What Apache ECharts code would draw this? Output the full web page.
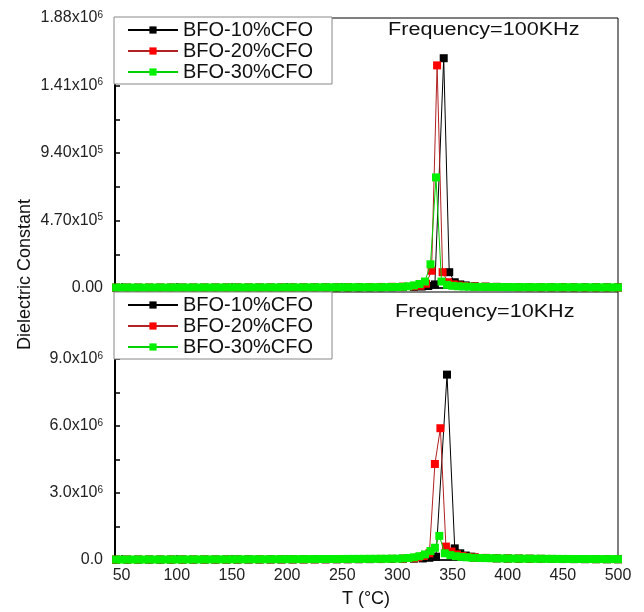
<!DOCTYPE html>
<html>
<head>
<meta charset="utf-8">
<script src="https://cdn.jsdelivr.net/npm/echarts@6/dist/echarts.min.js"></script>
<style>
html,body{margin:0;padding:0;background:#fff;}
#chart{width:644px;height:612px;}
</style>
</head>
<body>
<div id="chart"></div>
<script>
// ---------- data ----------
const seriesNames = ['BFO-10%CFO', 'BFO-20%CFO', 'BFO-30%CFO'];
const xTicks = [50, 100, 150, 200, 250, 300, 350, 400, 450, 500];

const topTickValues = [0, 235000, 470000, 705000, 940000, 1175000, 1410000, 1645000];
const topLabelValues = [0, 470000, 940000, 1410000, 1880000];
const topLabelMain = ['0.00', '4.70x10', '9.40x10', '1.41x10', '1.88x10'];
const topLabelExp = ['', '5', '5', '6', '6'];

const botTickValues = [0, 1500000, 3000000, 4500000, 6000000, 7500000, 9000000, 10500000];
const botLabelValues = [0, 3000000, 6000000, 9000000];
const botLabelMain = ['0.0', '3.0x10', '6.0x10', '9.0x10'];
const botLabelExp = ['', '6', '6', '6'];

// Frequency = 100 KHz
const top10T = [45,55,65,75,85,95,105,115,125,135,145,155,165,175,185,195,205,215,225,235,245,255,265,275,285,295,305,315,
  322,328,334,342,347,352,357,362,
  370,380,390,400,410,420,430,440,450,460,470,480,490,500];
const top10V = [2000,2000,2000,2000,2100,2100,2200,2200,2300,2300,2400,2500,2500,2600,2700,2800,2900,3000,3200,3400,3600,3900,4200,4600,5000,5600,6500,8000,
  10000,14000,25000,1600000,110000,40000,25000,18000,
  12000,9000,7500,6500,6000,5500,5000,4800,4500,4300,4100,4000,3900,3800];

const top20T = [45,55,65,75,85,95,105,115,125,135,145,155,165,175,185,195,205,215,225,235,245,255,265,275,285,295,305,315,
  321,326,331,336,341,346,351,356,361,
  370,380,390,400,410,420,430,440,450,460,470,480,490,500];
const top20V = [2500,2500,2500,2600,2600,2700,2700,2800,2900,3000,3100,3200,3300,3400,3600,3800,4000,4200,4500,4800,5200,5600,6100,6700,7400,8200,9500,12000,
  16000,30000,120000,1550000,110000,40000,25000,18000,14000,
  11000,9000,7800,7000,6400,6000,5600,5300,5000,4800,4600,4400,4200,4100];

const top30T = [45,50,55,60,65,70,75,80,85,90,95,100,105,110,115,120,125,130,135,140,145,150,155,160,165,170,175,180,185,190,195,200,
  205,210,215,220,225,230,235,240,245,250,255,260,265,270,275,280,285,290,295,300,
  305,310,315,320,325,330,335,340,345,350,355,360,365,370,
  375,380,385,390,395,400,405,410,415,420,425,430,435,440,445,450,455,460,465,470,475,480,485,490,495,500];
const top30V = [3000,3000,3000,3000,3000,3000,3100,3100,3100,3100,3200,3200,3200,3300,3300,3300,3400,3400,3400,3500,3500,3600,3600,3700,3700,3800,3800,3900,3900,4000,4000,4100,
  4200,4300,4400,4500,4600,4700,4800,4900,5000,5100,5200,5300,5400,5500,5600,5700,5800,6000,6500,7000,
  8000,12000,18000,28000,45000,165000,770000,45000,22000,15000,12000,10000,9000,8000,
  7500,7300,7100,6900,6700,6500,6300,6200,6100,6000,5900,5800,5700,5600,5500,5400,5300,5200,5100,5000,4900,4800,4700,4600,4500,4500];

// Frequency = 10 KHz
const bot10T = [45,55,65,75,85,95,105,115,125,135,145,155,165,175,185,195,205,215,225,235,245,255,265,275,285,295,305,315,
  323,329,335,345,352,357,362,367,
  370,380,390,400,410,420,430,440,450,460,470,480,490,500];
const bot10V = [15000,15000,16000,16000,17000,17000,18000,18000,19000,19000,20000,21000,22000,23000,24000,25000,26000,27000,28000,30000,32000,34000,36000,39000,42000,46000,52000,60000,
  70000,100000,150000,8300000,520000,300000,200000,150000,
  110000,90000,75000,65000,58000,52000,48000,45000,42000,40000,38000,36000,35000,34000];

const bot20T = [45,55,65,75,85,95,105,115,125,135,145,155,165,175,185,195,205,215,225,235,245,255,265,275,285,295,305,315,
  319,324,329,334,339,344,349,354,359,364,
  370,380,390,400,410,420,430,440,450,460,470,480,490,500];
const bot20V = [18000,18000,19000,19000,20000,20000,21000,21000,22000,22000,23000,24000,25000,26000,27000,28000,29000,30000,32000,34000,36000,38000,41000,44000,48000,53000,60000,80000,
  120000,180000,300000,4300000,5900000,600000,380000,250000,180000,140000,
  120000,95000,80000,70000,62000,56000,52000,48000,45000,43000,41000,39000,38000,37000];

const bot30T = [45,50,55,60,65,70,75,80,85,90,95,100,105,110,115,120,125,130,135,140,145,150,155,160,165,170,175,180,185,190,195,200,
  205,210,215,220,225,230,235,240,245,250,255,260,265,270,275,280,285,290,295,300,
  305,310,315,320,325,330,334,338,343,348,353,358,363,368,
  375,380,385,390,395,400,405,410,415,420,425,430,435,440,445,450,455,460,465,470,475,480,485,490,495,500];
const bot30V = [20000,20000,20000,21000,21000,21000,22000,22000,22000,23000,23000,24000,24000,25000,25000,26000,26000,27000,27000,28000,28000,29000,30000,30000,31000,32000,32000,33000,34000,35000,36000,37000,
  38000,39000,40000,41000,42000,43000,44000,45000,46000,47000,48000,49000,50000,51000,52000,53000,54000,56000,58000,60000,
  70000,90000,120000,170000,250000,400000,550000,1080000,300000,220000,170000,140000,120000,100000,
  90000,85000,80000,76000,72000,68000,65000,62000,60000,58000,56000,54000,52000,50000,49000,48000,47000,46000,45000,44000,43000,42000,41000,40000,40000,40000];

// ---------- helpers ----------
function pairs(ts, vs) { return ts.map((t, i) => [t, vs[i]]); }
const FONT = 'Liberation Sans';
const colors = ['#000000', '#ff0000', '#00f000'];
const lineColors = ['#000000', '#b22222', '#00d000'];

function mkSeries(name, idx, ts, vs, axisIdx) {
  return {
    name: name, type: 'line', xAxisIndex: axisIdx, yAxisIndex: axisIdx,
    data: pairs(ts, vs), symbol: 'rect', symbolSize: 8, showAllSymbol: true,
    itemStyle: { color: colors[idx] },
    lineStyle: { color: lineColors[idx], width: 1 },
    z: 2 + idx, animation: false, clip: false
  };
}

function yLabelFormatter(values, mains, exps) {
  return function (v) {
    for (let i = 0; i < values.length; i++) {
      if (Math.abs(values[i] - v) < 1) {
        return exps[i] ? '{m|' + mains[i] + '}{s|' + exps[i] + '}' : '{m|' + mains[i] + '}';
      }
    }
    return '';
  };
}
const richY = {
  m: { fontSize: 16, fontFamily: FONT, color: '#222' },
  s: { fontSize: 10, fontFamily: FONT, color: '#222', verticalAlign: 'top', padding: [0, 0, 6, 0] }
};

function xAxis(gridIndex, showLabels) {
  return {
    type: 'value', gridIndex: gridIndex, min: 44, max: 500,
    axisLine: { show: true, lineStyle: { color: '#000', width: 1.5 } },
    axisTick: { show: true, inside: true, length: 5, customValues: xTicks, lineStyle: { color: '#000', width: 1.5 } },
    axisLabel: { show: showLabels, customValues: xTicks, fontSize: 16, fontFamily: FONT, color: '#222', margin: 8 },
    splitLine: { show: false }
  };
}
function yAxis(gridIndex, max, ticks, lv, lm, le) {
  return {
    type: 'value', gridIndex: gridIndex, min: 0, max: max,
    axisLine: { show: true, lineStyle: { color: '#000', width: 2 } },
    axisTick: { show: true, inside: true, length: 5, customValues: ticks, lineStyle: { color: '#000', width: 1.5 } },
    axisLabel: { show: true, customValues: lv, formatter: yLabelFormatter(lv, lm, le), rich: richY, margin: 12 },
    splitLine: { show: false }
  };
}
function legend(top) {
  return {
    orient: 'vertical', left: 114, top: top, data: seriesNames,
    itemWidth: 50, itemHeight: 9, itemGap: 1,
    padding: [3, 19, 2, 13],
    backgroundColor: '#fff', borderColor: '#888', borderWidth: 1,
    textStyle: { fontSize: 20, fontFamily: FONT, color: '#111' },
    z: 10
  };
}

const chart = echarts.init(document.getElementById('chart'), null, { renderer: 'canvas' });
chart.setOption({
  animation: false,
  backgroundColor: '#fff',
  grid: [
    { left: 115, right: 26, top: 18, height: 270, show: true, borderColor: '#000', borderWidth: 1, backgroundColor: 'transparent' },
    { left: 115, right: 26, top: 292, height: 268, show: true, borderColor: '#000', borderWidth: 1, backgroundColor: 'transparent' }
  ],
  legend: [legend(17), legend(292)],
  xAxis: [xAxis(0, false), xAxis(1, true)],
  yAxis: [
    yAxis(0, 1880000, topTickValues, topLabelValues, topLabelMain, topLabelExp),
    yAxis(1, 12000000, botTickValues, botLabelValues, botLabelMain, botLabelExp)
  ],
  series: [
    mkSeries(seriesNames[0], 0, top10T, top10V, 0),
    mkSeries(seriesNames[1], 1, top20T, top20V, 0),
    mkSeries(seriesNames[2], 2, top30T, top30V, 0),
    mkSeries(seriesNames[0], 0, bot10T, bot10V, 1),
    mkSeries(seriesNames[1], 1, bot20T, bot20V, 1),
    mkSeries(seriesNames[2], 2, bot30T, bot30V, 1)
  ],
  graphic: [
    { type: 'text', x: 388, y: 21, scaleX: 1.2, z: 20, style: { text: 'Frequency=100KHz', fontSize: 18, fontFamily: FONT, fill: '#111' } },
    { type: 'text', x: 395, y: 303, scaleX: 1.2, z: 20, style: { text: 'Frequency=10KHz', fontSize: 18, fontFamily: FONT, fill: '#111' } },
    { type: 'text', x: 16, y: 350, rotation: Math.PI / 2, z: 20, style: { text: 'Dielectric Constant', fontSize: 18, fontFamily: FONT, fill: '#111' } },
    { type: 'text', x: 366, y: 590, z: 20, style: { text: 'T (°C)', fontSize: 18, fontFamily: FONT, fill: '#111', align: 'center' } }
  ]
});
</script>
</body>
</html>
